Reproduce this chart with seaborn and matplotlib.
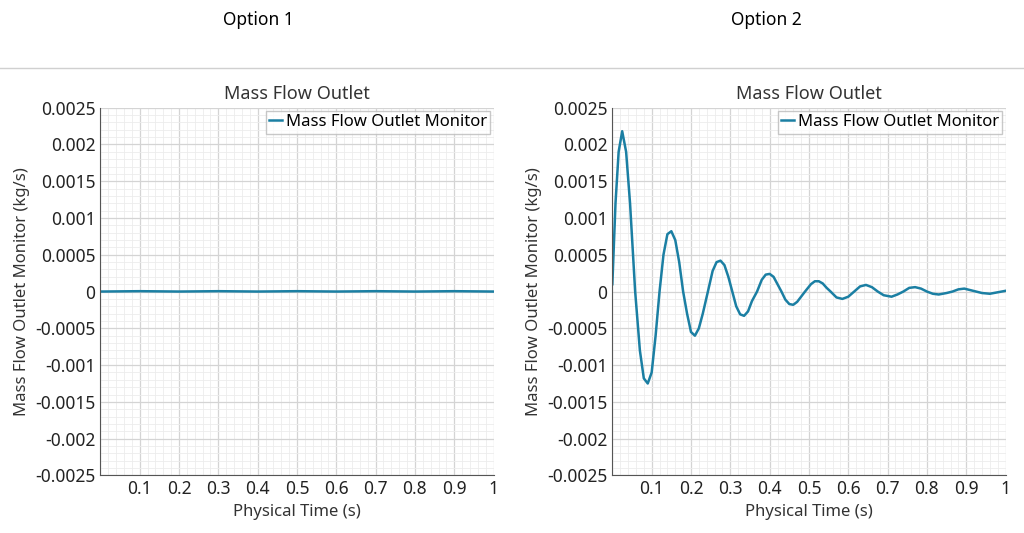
import numpy as np
import pandas as pd
import matplotlib
matplotlib.use("Agg")
import matplotlib.pyplot as plt
from matplotlib.ticker import MultipleLocator, FuncFormatter
import seaborn as sns

# Option 1: flat response
t1 = [0.0, 0.1, 0.2, 0.3, 0.4, 0.5, 0.6, 0.7, 0.8, 0.9, 1.0]
v1 = [0.0, 0.000005, 0.0, 0.000005, 0.0, 0.000005, 0.0, 0.000005, 0.0, 0.000005, 0.0]

# Option 2: damped oscillation
t2 = [0.0, 0.008, 0.016, 0.025, 0.035, 0.045, 0.058, 0.07, 0.08, 0.09, 0.10, 0.11, 0.12,
      0.13, 0.14, 0.15, 0.16, 0.17, 0.18, 0.19, 0.20, 0.21, 0.22, 0.23, 0.243, 0.255,
      0.265, 0.275, 0.285, 0.295, 0.305, 0.315, 0.325, 0.335, 0.345, 0.355, 0.368, 0.38,
      0.39, 0.40, 0.41, 0.42, 0.43, 0.44, 0.45, 0.46, 0.47, 0.48, 0.49, 0.505, 0.515,
      0.525, 0.535, 0.545, 0.555, 0.57, 0.585, 0.60, 0.615, 0.63, 0.645, 0.66, 0.675,
      0.69, 0.71, 0.725, 0.74, 0.755, 0.77, 0.785, 0.80, 0.815, 0.83, 0.85, 0.865, 0.88,
      0.895, 0.91, 0.925, 0.94, 0.96, 0.98, 1.0]
v2 = [0.0001, 0.0012, 0.0019, 0.00218, 0.0019, 0.0012, 0.0, -0.0008, -0.00118, -0.00125,
      -0.0011, -0.0006, 0.0, 0.0005, 0.00078, 0.00082, 0.0007, 0.0004, 0.0, -0.0003,
      -0.00055, -0.0006, -0.0005, -0.0003, 0.0, 0.00028, 0.0004, 0.00042, 0.00036, 0.0002,
      0.0, -0.0002, -0.00031, -0.00033, -0.00027, -0.00013, 0.0, 0.00016, 0.00023, 0.00024,
      0.0002, 0.0001, 0.0, -0.00011, -0.00017, -0.00018, -0.00014, -0.00007, 0.0, 0.0001,
      0.00014, 0.00014, 0.00011, 0.00005, 0.0, -0.00008, -0.0001, -0.00007, 0.0, 0.00007,
      0.00009, 0.00006, 0.0, -0.00005, -0.00007, -0.00004, 0.0, 0.00005, 0.00006, 0.00004,
      0.0, -0.00003, -0.00004, -0.00002, 0.0, 0.00003, 0.00004, 0.00002, 0.0, -0.00002,
      -0.00003, -0.00001, 0.00001]

plt.rcParams["font.family"] = "Noto Sans"
line_color = "#1b7fa3"

fig = plt.figure(figsize=(10.24, 5.33), dpi=100)
fig.text(0.252, 0.962, "Option 1", ha="center", va="center", fontsize=12.5)
fig.text(0.748, 0.962, "Option 2", ha="center", va="center", fontsize=12.5)
fig.add_artist(plt.Line2D([0, 1], [0.872, 0.872], color="#d0d0d0", lw=1))


def fmt(v, pos):
    if abs(v) < 1e-9:
        return "0"
    return ("%.4f" % v).rstrip("0")


def draw(ax, t, v):
    df = pd.DataFrame({"t": t, "v": v})
    sns.lineplot(data=df, x="t", y="v", ax=ax, color=line_color, lw=1.8,
                 label="Mass Flow Outlet Monitor")
    ax.set_xlim(0, 1)
    ax.set_ylim(-0.0025, 0.0025)
    ax.xaxis.set_major_locator(MultipleLocator(0.1))
    ax.xaxis.set_minor_locator(MultipleLocator(0.02))
    ax.yaxis.set_major_locator(MultipleLocator(0.0005))
    ax.yaxis.set_minor_locator(MultipleLocator(0.0001))
    ax.xaxis.set_major_formatter(FuncFormatter(lambda x, p: "" if x < 1e-9 else ("%.1f" % x if x < 0.99 else "1")))
    ax.yaxis.set_major_formatter(FuncFormatter(fmt))
    ax.grid(which="major", color="#d4d4d4", lw=0.9)
    ax.grid(which="minor", color="#ececec", lw=0.6)
    ax.set_axisbelow(True)
    for s in ["top", "right"]:
        ax.spines[s].set_visible(False)
    for s in ["left", "bottom"]:
        ax.spines[s].set_color("#555555")
    ax.tick_params(which="both", length=0, labelsize=12.5, colors="#222222")
    ax.set_title("Mass Flow Outlet", fontsize=13, color="#333333", pad=6)
    ax.set_xlabel("Physical Time (s)", fontsize=12, color="#333333")
    ax.set_ylabel("Mass Flow Outlet Monitor (kg/s)", fontsize=12, color="#333333")
    leg = ax.legend(loc="upper right", fontsize=12, frameon=True, fancybox=False,
                    handlelength=0.8, handletextpad=0.2, borderpad=0.2, borderaxespad=0.2)
    leg.get_frame().set_edgecolor("#bbbbbb")


ax1 = fig.add_axes([0.098, 0.108, 0.384, 0.69])
ax2 = fig.add_axes([0.598, 0.108, 0.384, 0.69])
draw(ax1, t1, v1)
draw(ax2, t2, v2)

fig.savefig("out.png", dpi=100)
